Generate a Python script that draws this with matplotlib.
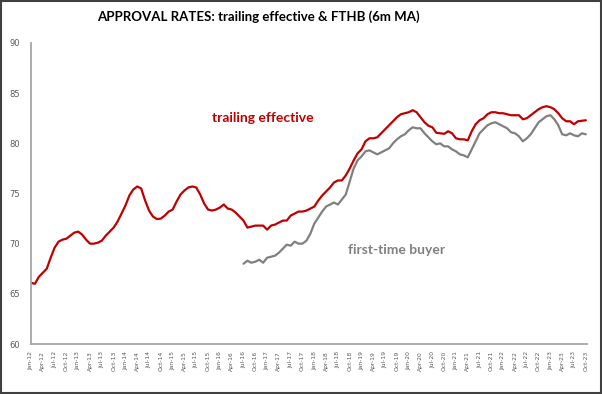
import matplotlib.pyplot as plt
from matplotlib.patches import Rectangle
import numpy as np
import pandas as pd

# 1. data (monthly, Jan-12 .. Oct-23)
months = pd.date_range("2012-01-01", "2023-10-01", freq="MS")

trailing_effective = [
    66.1, 66.0, 66.7, 67.1, 67.5, 68.6, 69.6, 70.2, 70.4, 70.5, 70.8, 71.1,   # 2012
    71.2, 70.9, 70.4, 70.0, 70.0, 70.1, 70.3, 70.8, 71.2, 71.6, 72.2, 73.0,   # 2013
    73.8, 74.8, 75.4, 75.7, 75.5, 74.3, 73.3, 72.7, 72.45, 72.5, 72.8, 73.2,  # 2014
    73.4, 74.2, 74.9, 75.3, 75.6, 75.7, 75.6, 74.9, 74.0, 73.4, 73.3, 73.4,   # 2015
    73.6, 73.9, 73.5, 73.4, 73.1, 72.7, 72.3, 71.6, 71.7, 71.8, 71.8, 71.8,   # 2016
    71.4, 71.8, 71.9, 72.1, 72.3, 72.3, 72.8, 73.0, 73.2, 73.2, 73.3, 73.5,   # 2017
    73.7, 74.3, 74.8, 75.2, 75.6, 76.1, 76.3, 76.3, 76.8, 77.5, 78.3, 79.0,   # 2018
    79.4, 80.2, 80.5, 80.5, 80.6, 81.0, 81.4, 81.8, 82.2, 82.6, 82.9, 83.0,   # 2019
    83.1, 83.3, 83.1, 82.6, 82.1, 81.75, 81.6, 81.05, 81.0, 80.95, 81.2, 81.0,  # 2020
    80.5, 80.4, 80.4, 80.3, 81.2, 81.9, 82.3, 82.5, 82.9, 83.1, 83.1, 83.0,   # 2021
    83.0, 82.9, 82.8, 82.8, 82.8, 82.4, 82.5, 82.8, 83.1, 83.4, 83.6, 83.7,   # 2022
    83.6, 83.4, 83.0, 82.5, 82.2, 82.2, 81.9, 82.2, 82.25, 82.3,              # 2023
]

# first-time buyer series starts Jul-16
fthb_start = 54
first_time_buyer = [
    68.0, 68.3, 68.1, 68.2, 68.4, 68.1,                                      # 2016
    68.6, 68.7, 68.8, 69.1, 69.5, 69.9, 69.8, 70.2, 70.0, 70.0, 70.3, 71.0,   # 2017
    72.0, 72.6, 73.2, 73.7, 73.9, 74.1, 73.9, 74.4, 74.9, 76.2, 77.5, 78.3,   # 2018
    78.7, 79.2, 79.3, 79.1, 78.9, 79.1, 79.3, 79.5, 80.0, 80.4, 80.7, 80.9,   # 2019
    81.3, 81.6, 81.5, 81.5, 81.0, 80.6, 80.2, 79.9, 80.0, 79.7, 79.7, 79.4,   # 2020
    79.2, 78.9, 78.8, 78.6, 79.4, 80.2, 81.0, 81.4, 81.8, 82.0, 82.1, 81.9,   # 2021
    81.7, 81.5, 81.1, 81.0, 80.7, 80.2, 80.5, 80.9, 81.5, 82.1, 82.4, 82.7,   # 2022
    82.8, 82.4, 81.8, 80.9, 80.8, 81.0, 80.8, 80.7, 81.0, 80.9,              # 2023
]

yticks = [60, 65, 70, 75, 80, 85, 90]
tick_labels = [d.strftime("%b-%y") for d in months[::3]]

RED = "#C00000"
GREY = "#808080"
TXT = "#595959"

# 2. figure
fig = plt.figure(figsize=(6.02, 3.94), dpi=100)
ax = fig.add_axes([31 / 602, 50 / 394, 556 / 602, 301 / 394])

x = np.arange(len(trailing_effective))
x_fthb = np.arange(fthb_start, fthb_start + len(first_time_buyer))
ax.plot(x, trailing_effective, color=RED, lw=1.6, solid_capstyle="round")
ax.plot(x_fthb, first_time_buyer, color=GREY, lw=1.6, solid_capstyle="round")

ax.set_xlim(0, 141.3)
ax.set_ylim(60, 90)
ax.set_yticks(yticks)
ax.set_yticklabels([str(v) for v in yticks], fontsize=6, color=TXT)
ax.set_xticks(np.arange(0, len(months), 3))
ax.set_xticklabels(tick_labels, rotation=90, fontsize=4.3, color=TXT)
ax.tick_params(length=0, pad=5)
ax.tick_params(axis="y", pad=8)

for s in ["top", "right"]:
    ax.spines[s].set_visible(False)
for s in ["left", "bottom"]:
    ax.spines[s].set_color("#A6A6A6")
    ax.spines[s].set_linewidth(1.3)

# series labels
ax.text(58.9, 82.5, "trailing effective", color=RED, fontsize=10, fontweight="bold",
        ha="center", va="center", family="Lato")
ax.text(93, 69.4, "first-time buyer", color=GREY, fontsize=10, fontweight="bold",
        ha="center", va="center", family="Lato")

fig.text(0.43, 1 - 17 / 394, "APPROVAL RATES: trailing effective & FTHB (6m MA)",
         ha="center", va="center", fontsize=9.5, fontweight="bold", family="Lato")

# outer frame
fig.patches.append(Rectangle((0.001, 0.002), 0.997, 0.996, transform=fig.transFigure,
                             fill=False, edgecolor="#404040", lw=1.5))

plt.savefig("out.png", dpi=100)
